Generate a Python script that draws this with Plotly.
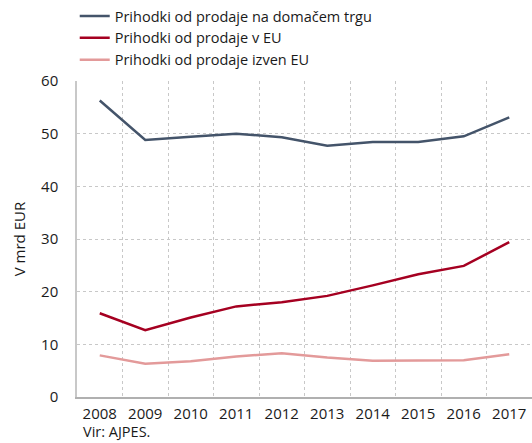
import plotly.graph_objects as go

years = ["2008", "2009", "2010", "2011", "2012", "2013", "2014", "2015", "2016", "2017"]
domestic = [56.3, 48.8, 49.4, 50.0, 49.3, 47.7, 48.4, 48.4, 49.5, 53.1]
eu = [15.9, 12.7, 15.1, 17.2, 18.0, 19.2, 21.2, 23.3, 24.9, 29.4]
non_eu = [7.9, 6.3, 6.8, 7.7, 8.3, 7.5, 6.9, 7.0, 7.0, 8.1]
names = ["Prihodki od prodaje na domačem trgu", "Prihodki od prodaje v EU", "Prihodki od prodaje izven EU"]
colors = ["#44546A", "#A50021", "#E39A9A"]
y_ticks = [0, 10, 20, 30, 40, 50, 60]

xs = list(range(len(years)))
fig = go.Figure()
for name, vals, col in zip(names, [domestic, eu, non_eu], colors):
    fig.add_trace(go.Scatter(x=xs, y=vals, mode="lines", name=name,
                             line=dict(color=col, width=2.5)))

font = "Open Sans"
fig.update_layout(
    width=532, height=443,
    margin=dict(l=77, r=0, t=80, b=46),
    paper_bgcolor="white", plot_bgcolor="white",
    font=dict(family=font, size=15, color="#1a1a1a"),
    showlegend=True,
    legend=dict(x=-0.005, y=1.255, xanchor="left", yanchor="top",
                bgcolor="rgba(0,0,0,0)", font=dict(size=14.5),
                tracegroupgap=0, itemwidth=30),
    xaxis=dict(range=[-0.5, 9.5], tickvals=xs, ticktext=years, showgrid=False,
               showline=True, linecolor="#b0b0b0", linewidth=1.5, ticks="",
               zeroline=False, fixedrange=True, ticklabelstandoff=2,
               minor=dict(tickvals=[i + 0.5 for i in range(9)], showgrid=True,
                          griddash="dot", gridcolor="#c8c8c8", gridwidth=1, ticks="")),
    yaxis=dict(range=[0, 60], tickvals=y_ticks, showgrid=True, griddash="dot",
               gridcolor="#c8c8c8", gridwidth=1, showline=True, linecolor="#c8c8c8",
               linewidth=1.5, zeroline=False, ticks="", ticklabelstandoff=14,
               fixedrange=True,
               title=dict(text="V mrd EUR", standoff=12, font=dict(size=15))),
    annotations=[dict(text="Vir: AJPES.", xref="paper", yref="paper", x=0.012, y=-0.143,
                      xanchor="left", yanchor="bottom", showarrow=False, borderpad=0,
                      font=dict(size=14.5))],
)

fig.write_html("out.html", config={"displayModeBar": False},
               post_script="document.body.style.margin='0';document.body.style.padding='0';")
